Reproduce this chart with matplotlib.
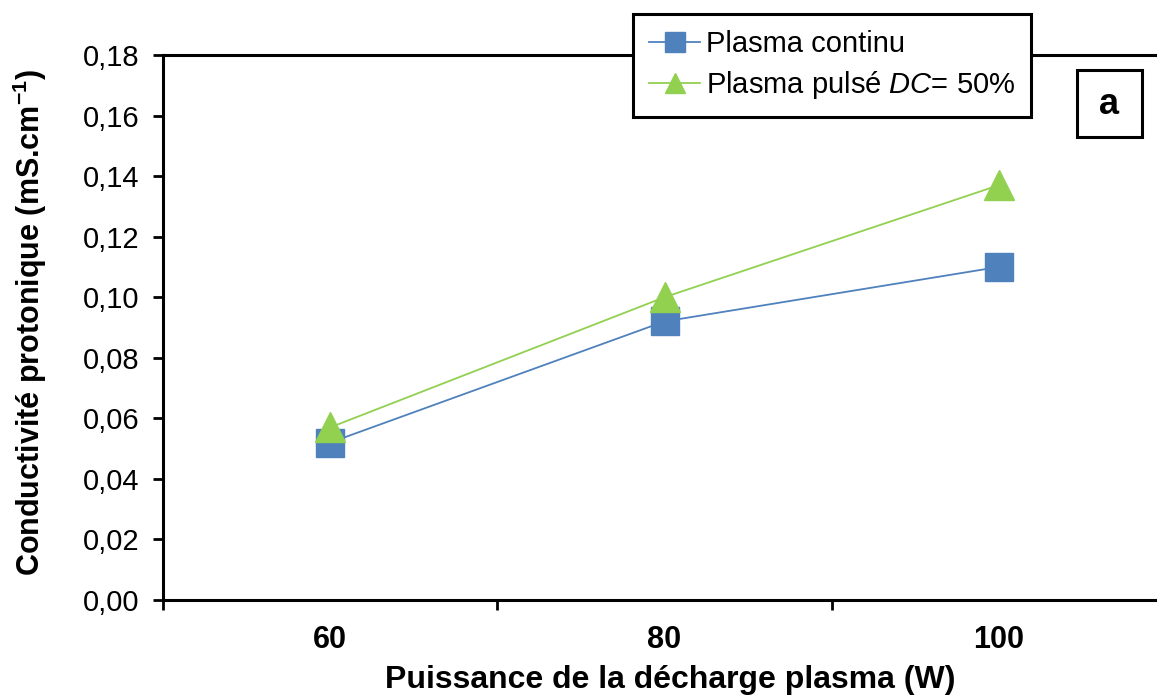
import matplotlib
matplotlib.use('Agg')
import matplotlib.pyplot as plt
from matplotlib.patches import Rectangle
from matplotlib.ticker import FuncFormatter, FixedLocator

plt.rcParams['font.family'] = ['Liberation Sans', 'DejaVu Sans']
plt.rcParams['mathtext.fontset'] = 'custom'
plt.rcParams['mathtext.rm'] = 'Liberation Sans'
plt.rcParams['mathtext.it'] = 'Liberation Sans:italic'
plt.rcParams['mathtext.bf'] = 'Liberation Sans:bold'

# data
puissances = ['60', '80', '100']
continu = [0.052, 0.092, 0.110]
pulse = [0.057, 0.100, 0.137]

W, H = 1157, 697
fig = plt.figure(figsize=(W / 100, H / 100), dpi=100)
ax = fig.add_axes([163 / W, 97 / H, 1003 / W, 545 / H])

x = list(range(len(puissances)))
ax.plot(x, continu, color='#4F81BD', lw=1.3, marker='s', markersize=20.5,
        markerfacecolor='#4F81BD', markeredgecolor='#4F81BD',
        label='Plasma continu', zorder=3)
ax.plot(x, pulse, color='#92D050', lw=1.3, marker='^', markersize=21,
        markerfacecolor='#92D050', markeredgecolor='#92D050',
        label='Plasma pulsé $\\mathit{DC}$= 50%', zorder=4)

ax.set_xlim(-0.5, 2.5)
ax.set_ylim(0, 0.18)
ax.set_yticks([i * 0.02 for i in range(10)])
ax.yaxis.set_major_formatter(FuncFormatter(lambda v, p: '{:.2f}'.format(v).replace('.', ',')))
ax.set_xticks(x)
ax.set_xticklabels(puissances, fontsize=22, fontweight='bold')
ax.xaxis.set_minor_locator(FixedLocator([-0.5, 0.5, 1.5, 2.5]))
ax.tick_params(axis='x', which='major', length=0, pad=18)
ax.tick_params(axis='x', which='minor', length=7, width=2, direction='out')
ax.tick_params(axis='y', length=7, width=2, direction='out', labelsize=21, pad=10)

for s in ['left', 'bottom', 'top']:
    ax.spines[s].set_linewidth(2.2)
ax.spines['right'].set_visible(False)

fig.text(670 / W, 1 - 680 / H, 'Puissance de la décharge plasma (W)', fontsize=23,
         fontweight='bold', ha='center', va='center')
fig.text(30 / W, 1 - 322 / H, 'Conductivité protonique (mS.cm$^{\\mathbf{-1}}$)',
         fontsize=22, fontweight='bold', rotation=90, ha='center', va='center')

leg = ax.legend(loc='upper left', bbox_to_anchor=(633 / W, 1 - 14 / H),
                bbox_transform=fig.transFigure, fontsize=21, frameon=True,
                fancybox=False, edgecolor='black', framealpha=1,
                handlelength=1.75, handletextpad=0.2, markerscale=0.7,
                borderpad=0.55, labelspacing=0.38, borderaxespad=0)
leg.get_frame().set_linewidth(2.2)

fig.add_artist(Rectangle((1077 / W, 1 - 137 / H), 65 / W, 67 / H,
                         transform=fig.transFigure, fc='white', ec='black', lw=2.2))
fig.text(1109.5 / W, 1 - 104 / H, 'a', fontsize=26, fontweight='bold',
         ha='center', va='center')

fig.savefig('out.png', dpi=100)
